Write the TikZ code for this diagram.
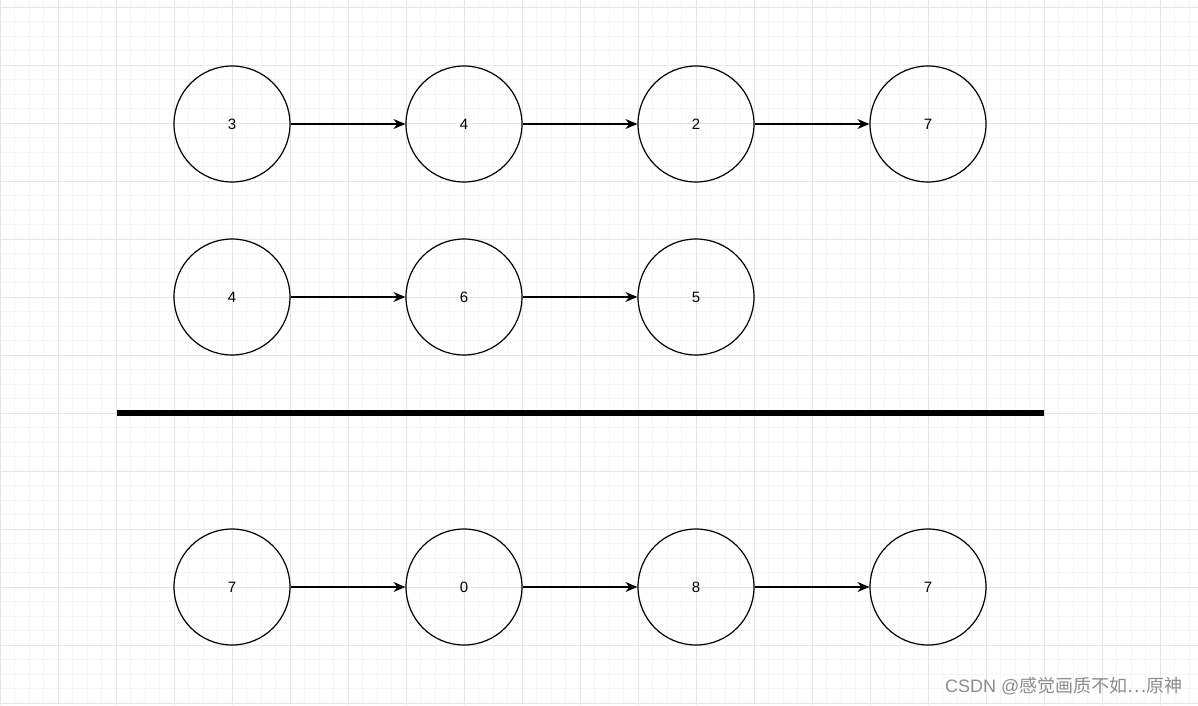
\documentclass[tikz,border=0pt]{standalone}
\usepackage{fontspec}
\setmainfont{Liberation Sans}
\newfontfamily\cjk{Noto Sans CJK SC}
\usetikzlibrary{arrows.meta}
\begin{document}
\begin{tikzpicture}[x=1pt,y=-1pt,
  nd/.style={circle,draw,line width=1.2pt,minimum size=116pt,inner sep=0pt,font=\fontsize{15}{15}\selectfont},
  ar/.style={-{Stealth[length=12pt,width=10pt]},line width=1.1pt}]
\useasboundingbox (0,0) rectangle (1198,705);
\foreach \i in {0,...,83} {\draw[black!4,line width=0.6pt] (\i*14.5,0) -- (\i*14.5,705);}
\foreach \j in {0,...,48} {\draw[black!4,line width=0.6pt] (0,7+\j*14.5) -- (1198,7+\j*14.5);}
\foreach \i in {0,...,20} {\draw[black!10,line width=0.8pt] (\i*58,0) -- (\i*58,705);}
\foreach \j in {0,...,12} {\draw[black!10,line width=0.8pt] (0,7+\j*58) -- (1198,7+\j*58);}
\node[nd] (a1) at (232,124) {3};
\node[nd] (a2) at (464,124) {4};
\node[nd] (a3) at (696,124) {2};
\node[nd] (a4) at (928,124) {7};
\node[nd] (b1) at (232,297) {4};
\node[nd] (b2) at (464,297) {6};
\node[nd] (b3) at (696,297) {5};
\node[nd] (c1) at (232,587) {7};
\node[nd] (c2) at (464,587) {0};
\node[nd] (c3) at (696,587) {8};
\node[nd] (c4) at (928,587) {7};
\draw[ar] (a1) -- (a2); \draw[ar] (a2) -- (a3); \draw[ar] (a3) -- (a4);
\draw[ar] (b1) -- (b2); \draw[ar] (b2) -- (b3);
\draw[ar] (c1) -- (c2); \draw[ar] (c2) -- (c3); \draw[ar] (c3) -- (c4);
\coordinate (l1) at (117,413); \coordinate (l2) at (1044,413);
\draw[line width=6pt] (l1) -- (l2);
\node[anchor=east,text=black!45,font=\fontsize{18}{18}\selectfont] (wm) at (1186,686) {CSDN @{\cjk 感觉画质不如…原神}};
\end{tikzpicture}
\end{document}
